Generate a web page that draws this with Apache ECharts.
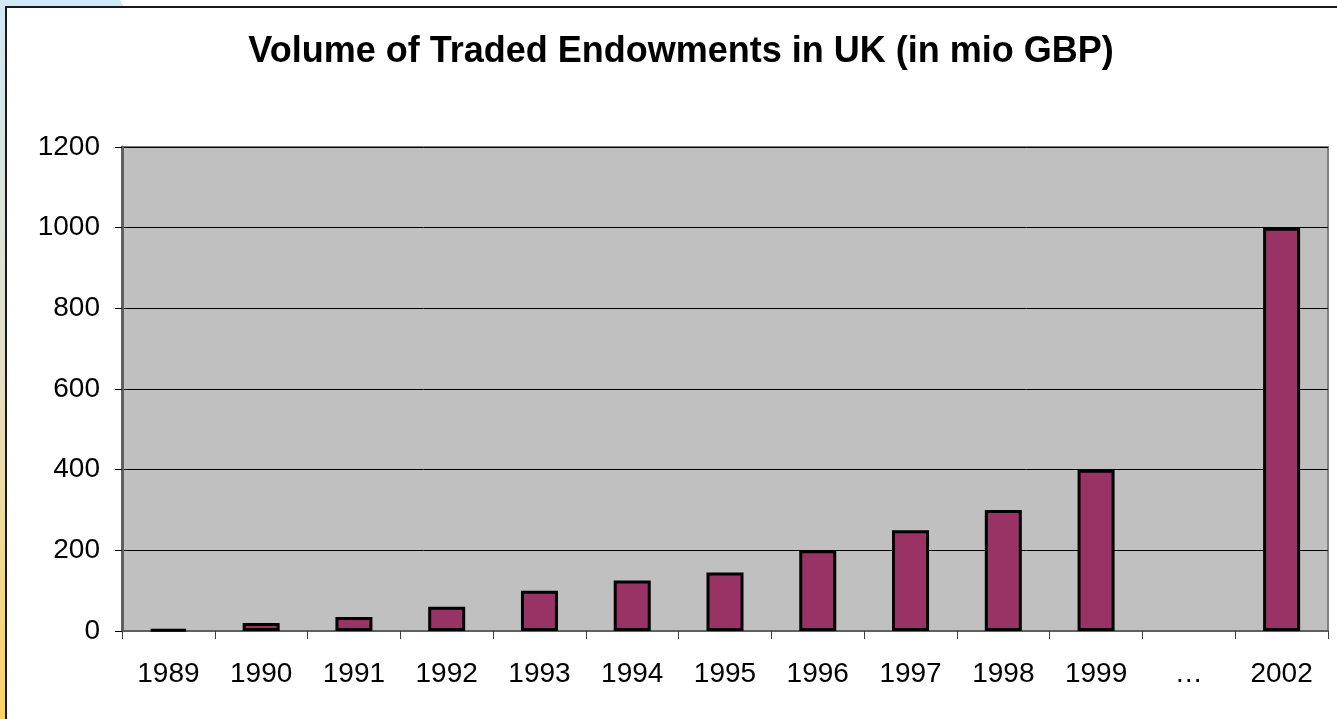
<!DOCTYPE html>
<html>
<head>
<meta charset="utf-8">
<script src="https://cdn.jsdelivr.net/npm/echarts@6/dist/echarts.min.js"></script>
<style>
  html, body { margin: 0; padding: 0; background: #ffffff; }
  #chart { width: 1337px; height: 719px; }
</style>
</head>
<body>
<div id="chart"></div>
<script>
// Yearly volume of traded endowment policies in the UK, million GBP
var categories = ['1989', '1990', '1991', '1992', '1993', '1994', '1995', '1996', '1997', '1998', '1999', '\u2026', '2002'];
var volumes = [4, 20, 35, 60, 100, 125, 145, 200, 250, 300, 400, '-', 1000];
var titleText = 'Volume of Traded Endowments in UK (in mio GBP)';

var chart = echarts.init(document.getElementById('chart'), null, { renderer: 'canvas' });

var font = '"Liberation Sans", Arial, sans-serif';

chart.setOption({
  backgroundColor: '#ffffff',
  animation: false,
  title: {
    text: titleText,
    left: 676,
    textAlign: 'center',
    top: 29,
    textStyle: { fontFamily: font, fontSize: 36, fontWeight: 'bold', color: '#000000' }
  },
  graphic: [
    // slide margin: pale blue fading to yellow down the left edge
    {
      type: 'rect',
      shape: { x: 0, y: 0, width: 6, height: 719 },
      style: {
        fill: new echarts.graphic.LinearGradient(0, 0, 0, 1, [
          { offset: 0, color: '#d2e8f4' },
          { offset: 0.5, color: '#e4e0c8' },
          { offset: 1, color: '#fad264' }
        ])
      },
      silent: true
    },
    {
      type: 'polygon',
      shape: { points: [[0, 0], [120, 0], [124, 7], [0, 7]] },
      style: { fill: '#d2e8f4' },
      silent: true
    },
    // frame of the chart box
    {
      type: 'rect',
      shape: { x: 6, y: 7, width: 1340, height: 720 },
      style: { fill: 'transparent', stroke: '#1a1a1a', lineWidth: 2 },
      silent: true
    }
  ],
  grid: {
    left: 122,
    right: 9,
    top: 147,
    bottom: 88,
    show: true,
    backgroundColor: '#c0c0c0',
    borderColor: '#808080',
    borderWidth: 2,
    containLabel: false
  },
  xAxis: {
    type: 'category',
    data: categories,
    boundaryGap: true,
    axisLine: { show: true, lineStyle: { color: '#606060', width: 2 } },
    axisTick: { show: true, interval: 0, length: 8, lineStyle: { color: '#404040', width: 1 } },
    axisLabel: {
      interval: 0,
      margin: 29,
      fontFamily: font,
      fontSize: 28,
      color: '#000000'
    },
    splitLine: { show: false }
  },
  yAxis: {
    type: 'value',
    min: 0,
    max: 1200,
    interval: 200,
    axisLine: { show: true, lineStyle: { color: '#606060', width: 3 } },
    axisTick: { show: true, length: 7, lineStyle: { color: '#000000', width: 1 } },
    axisLabel: {
      margin: 22,
      fontFamily: font,
      fontSize: 28,
      color: '#000000',
      formatter: function (v) { return String(v); }
    },
    splitLine: { show: true, lineStyle: { color: '#000000', width: 1 } }
  },
  series: [
    {
      type: 'bar',
      data: volumes,
      barWidth: 37,
      itemStyle: { color: '#993366', borderColor: '#000000', borderWidth: 3 }
    }
  ]
});
</script>
</body>
</html>
